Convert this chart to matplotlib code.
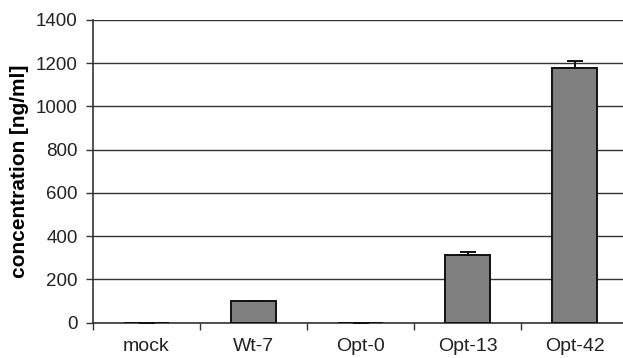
import matplotlib
matplotlib.use("Agg")
import matplotlib.pyplot as plt
import numpy as np

plt.rcParams["font.family"] = ["Liberation Sans", "DejaVu Sans"]

samples = ["mock", "Wt-7", "Opt-0", "Opt-13", "Opt-42"]
conc = [0, 100, 0, 313, 1180]      # ng/ml
conc_err = [0, 1, 0, 14, 30]
yticks = [0, 200, 400, 600, 800, 1000, 1200, 1400]

W, H = 623, 358
fig = plt.figure(figsize=(W / 100, H / 100), dpi=100)
ax = fig.add_axes([93 / W, (H - 322.7) / H, (628 - 93) / W, (322.7 - 20) / H])

x = np.arange(len(samples))
ax.bar(x, conc, width=0.42, color="#808080", edgecolor="#111111",
       linewidth=1.4, zorder=3)
ax.errorbar(x, conc, yerr=[np.zeros(len(conc)), conc_err], fmt="none",
            ecolor="#111111", elinewidth=1.4, capsize=6, capthick=1.4, zorder=4)

ax.set_xlim(-0.5, len(samples) - 0.5)
ax.set_ylim(0, 1400)
ax.set_yticks(yticks)
ax.yaxis.grid(True, color="#333333", linewidth=1.0, zorder=0)
ax.set_axisbelow(True)

# category labels centred, tick marks on the boundaries
ax.set_xticks(x)
ax.set_xticklabels(samples)
ax.tick_params(axis="x", which="major", length=0, pad=11, labelsize=14,
               colors="#222222")
ax.set_xticks(np.arange(len(samples)) - 0.5, minor=True)
ax.tick_params(axis="x", which="minor", direction="out", length=5, width=1.0,
               color="#333333")
ax.tick_params(axis="y", direction="out", length=5, width=1.0, pad=6,
               labelsize=13.5, colors="#333333", labelcolor="#222222")

for s in ("top", "right"):
    ax.spines[s].set_visible(False)
for s in ("left", "bottom"):
    ax.spines[s].set_color("#333333")
    ax.spines[s].set_linewidth(1.2)

ax.set_ylabel("concentration [ng/ml]", fontsize=15, fontweight="bold",
              labelpad=5)

fig.savefig("out.png", dpi=100)
